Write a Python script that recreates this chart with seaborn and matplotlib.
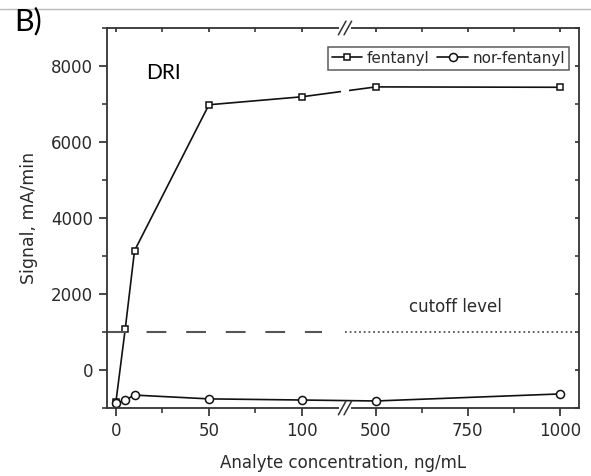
import numpy as np
import pandas as pd
import matplotlib
matplotlib.use("Agg")
import matplotlib.pyplot as plt
import seaborn as sns
from matplotlib.lines import Line2D
from matplotlib.patches import Rectangle
from matplotlib.ticker import FixedLocator


# data
conc = [0, 5, 10, 50, 100, 500, 1000]
fentanyl = [-840, 1080, 3140, 6980, 7190, 7450, 7440]
nor_fentanyl = [-880, -790, -660, -760, -790, -815, -630]
cutoff = 1000

x_major = [0, 50, 100, 500, 750, 1000]
x_minor = [25, 75, 625, 875]
y_major = [0, 2000, 4000, 6000, 8000]
y_minor = [-1000, 1000, 3000, 5000, 7000, 9000]


# broken x axis: 0-100 stretched, 500-1000 compressed
def fwd(x):
    x = np.asarray(x, dtype=float)
    return np.where(x < 123.1, 1.86 * x, 229 + 0.368 * (x - 416))


def inv(m):
    m = np.asarray(m, dtype=float)
    return np.where(m < 229, m / 1.86, 416 + (m - 229) / 0.368)


sns.set_theme(style="ticks")
plt.rcParams["font.family"] = ["DejaVu Sans"]
plt.rcParams["text.color"] = "#2a2a2a"
plt.rcParams["axes.labelcolor"] = "#2a2a2a"
plt.rcParams["xtick.color"] = "#2a2a2a"
plt.rcParams["ytick.color"] = "#2a2a2a"

fig = plt.figure(figsize=(5.91, 4.76), dpi=100)
ax = fig.add_axes([107 / 591, 68 / 476, 472 / 591, 380 / 476])

df = pd.DataFrame({"conc": conc, "fentanyl": fentanyl, "nor-fentanyl": nor_fentanyl})

sns.lineplot(data=df, x="conc", y="fentanyl", ax=ax, color="#111111", lw=1.2,
             marker="s", ms=5, markerfacecolor="white", markeredgecolor="#111111",
             markeredgewidth=1.1, label="fentanyl")
sns.lineplot(data=df, x="conc", y="nor-fentanyl", ax=ax, color="#111111", lw=1.2,
             marker="o", ms=5.8, markerfacecolor="white", markeredgecolor="#111111",
             markeredgewidth=1.1, label="nor-fentanyl")

ax.set_xscale("function", functions=(fwd, inv))
ax.set_xlim(-4.8, 1052)
ax.set_ylim(-1000, 9000)

# cutoff level: dashed on the left part, dotted on the right
ax.plot([-4.8, 111], [cutoff, cutoff], color="#555555", lw=1.5, dashes=(9.5, 9.5))
ax.plot([416, 1052], [cutoff, cutoff], color="#555555", lw=1.3, dashes=(1, 1.6))

ax.xaxis.set_major_locator(FixedLocator(x_major))
ax.xaxis.set_minor_locator(FixedLocator(x_minor))
ax.yaxis.set_major_locator(FixedLocator(y_major))
ax.yaxis.set_minor_locator(FixedLocator(y_minor))
ax.set_xticklabels([str(v) for v in x_major])

for s in ax.spines.values():
    s.set_color("#333333")
    s.set_linewidth(1.3)

ax.tick_params(axis="both", which="major", direction="out", length=6, width=1.2,
               labelsize=12, pad=4)
ax.tick_params(axis="both", which="minor", direction="out", length=3.5, width=1.1)
# the mirrored ticks on top and right are short and point inwards
ax.tick_params(top=True, right=True, which="both", labeltop=False, labelright=False)
ax.xaxis.set_tick_params(which="both", top=True)
for t in ax.xaxis.get_major_ticks() + ax.xaxis.get_minor_ticks():
    t.tick2line.set_markersize(3)
    t.tick2line.set_marker(3)
for t in ax.yaxis.get_major_ticks() + ax.yaxis.get_minor_ticks():
    t.tick2line.set_markersize(3)
    t.tick2line.set_marker(0)

ax.set_xlabel("Analyte concentration, ng/mL", fontsize=12, labelpad=10)
ax.set_ylabel("Signal, mA/min", fontsize=12.5, labelpad=9)

leg = ax.legend(loc="upper right", bbox_to_anchor=(1 - 10 / 472, 1 - 19 / 380),
                borderaxespad=0, ncol=2, frameon=True, fancybox=False,
                edgecolor="#333333", fontsize=11, handlelength=2.0,
                handletextpad=0.3, columnspacing=0.5, borderpad=0.25)
leg.get_frame().set_linewidth(1.1)

# axis break: white gaps and // marks
bx = (345 - 107) / 472
for yb in (0, 1):
    ax.add_patch(Rectangle((bx - 0.012, yb - 0.008), 0.024, 0.016,
                           transform=ax.transAxes, facecolor="white",
                           edgecolor="none", clip_on=False, zorder=5))
    for dx in (-0.006, 0.006):
        ax.add_line(Line2D([bx + dx - 0.008, bx + dx + 0.008], [yb - 0.018, yb + 0.018],
                           transform=ax.transAxes, color="#333333", lw=1.1,
                           clip_on=False, zorder=6))
ax.add_patch(Rectangle((bx - 0.008, (7330 + 1000) / 10000 - 0.01), 0.016, 0.02,
                       transform=ax.transAxes, facecolor="white",
                       edgecolor="none", zorder=5))

ax.text(715, 1650, "cutoff level", fontsize=12, ha="center", va="center")
fig.text(146 / 591, 1 - 73 / 476, "DRI", fontsize=15, family="Lato",
         color="black", ha="left", va="center")
fig.text(14 / 591, 1 - 21 / 476, "B)", fontsize=22, family="Lato",
         color="black", ha="left", va="center")

# grey line at the very top of the screenshot
fig.add_artist(Line2D([0, 1], [1 - 9 / 476] * 2, color="#bbbbbb", lw=1))

plt.savefig("out.png", dpi=100)
